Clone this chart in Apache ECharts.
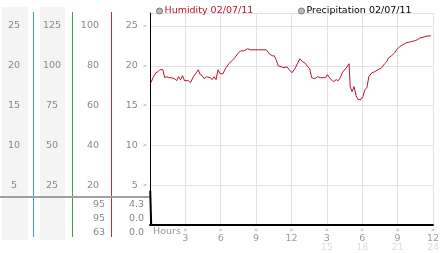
<!DOCTYPE html>
<html><head><meta charset="utf-8">
<script src="https://cdn.jsdelivr.net/npm/echarts@6/dist/echarts.min.js"></script>
<style>html,body{margin:0;padding:0;background:#fff}#c{width:442px;height:253px}</style>
</head><body><div id="c"></div>
<script>
const hours = [0.08,0.25,0.5,0.67,0.84,1.09,1.25,1.42,1.59,1.76,1.92,2.09,2.26,2.42,2.59,2.76,2.93,3.09,3.26,3.43,3.68,3.93,4.1,4.26,4.43,4.6,4.77,4.93,5.1,5.27,5.44,5.6,5.77,5.94,6.19,6.44,6.69,6.94,7.19,7.44,7.69,7.94,8.28,8.53,9.2,9.87,10.12,10.37,10.54,10.7,10.87,11.12,11.37,11.62,11.87,12.04,12.29,12.54,12.71,12.96,13.13,13.38,13.55,13.71,13.97,14.22,14.47,14.63,14.89,15.05,15.3,15.55,15.8,15.97,16.14,16.31,16.47,16.72,16.89,16.98,17.14,17.31,17.48,17.64,17.9,18.06,18.23,18.4,18.56,18.82,19.07,19.32,19.48,19.65,19.9,20.07,20.24,20.49,20.74,20.91,21.16,21.41,21.74,22.08,22.41,22.66,22.91,23.25,23.58,23.83];
const humidity = [71.5,74,76.5,77,78,78,74,74.5,74,74,73,73.5,72.5,74.5,73,75,72.5,73.5,72.5,71.5,74.5,76.5,78,75.5,75,73.5,74.5,73.5,74,73,74.5,73,78,76,76,79,81,82.5,84,86,87.5,87.5,88.5,88,88,88,86,85,85,83,80,79.5,79,79.5,77.5,76.5,78.5,81.5,83.5,82,81.5,79.5,78.5,74,73.5,74.5,74,75,74,75.5,73.5,72,73,72.5,74,76.5,77.5,79.5,81,69.5,67,69.5,65,63,63,64.5,68,69,74.5,76.5,77,78,77.5,79,81,82,84,85,86.5,88,89.5,90.5,91.5,92,92.5,93,94,94.5,95,95];
const precipHours = [0.02,0.1,24];
const precip = [4.3,0,0];
const xTicks = [3,6,9,12,15,18,21,24];
const legendNames = ['Humidity 02/07/11','Precipitation 02/07/11'];

const FONT = 'DejaVu Sans';
const YMAX = 26.625;
const hMax = Math.max(...humidity), hCur = humidity[humidity.length-1], hMin = Math.min(...humidity);
const pMax = Math.max(...precip), pCur = precip[precip.length-1], pMin = Math.min(...precip);
const humStats = [hMax,hCur,hMin].map(v=>String(Math.round(v)));
const preStats = [pMax,pCur,pMin].map(v=>v.toFixed(1));

function fmt(interval){return v => (v===0 || Math.abs(v % interval) > 1e-6) ? '' : String(v);}
function sideAxis(offset, max, interval, margin, align){
  return {type:'value',position:'left',offset:offset,min:0,max:max,interval:interval,
    axisLine:{show:false},axisTick:{show:false},splitLine:{show:false},
    axisLabel:{margin:margin,align:align,color:'#888',fontFamily:FONT,fontSize:9.5,formatter:fmt(interval),showMaxLabel:true}};
}
const statY = [205,219,233];
const graphic = [
  {type:'rect',shape:{x:2,y:7,width:26,height:233},style:{fill:'#f4f4f4'},z:-10},
  {type:'rect',shape:{x:40,y:7,width:25,height:233},style:{fill:'#f4f4f4'},z:-10},
  {type:'rect',shape:{x:33,y:12,width:1,height:225},style:{fill:'#3aa0c8'}},
  {type:'rect',shape:{x:72,y:12,width:1,height:225},style:{fill:'#3aa53a'}},
  {type:'rect',shape:{x:111,y:12,width:1,height:225},style:{fill:'#b83030'}},
  {type:'rect',shape:{x:0,y:196,width:150,height:2},style:{fill:'#a0a0a0'}},
  {type:'text',x:153,y:232,style:{text:'Hours',fill:'#999',font:'9.5px '+FONT,textVerticalAlign:'middle'}}
];
statY.forEach((y,i)=>{
  graphic.push({type:'text',x:105,y:y,style:{text:humStats[i],fill:'#888',font:'9.5px '+FONT,textAlign:'right',textVerticalAlign:'middle'}});
  graphic.push({type:'text',x:144,y:y,style:{text:preStats[i],fill:'#888',font:'9.5px '+FONT,textAlign:'right',textVerticalAlign:'middle'}});
});

const chart = echarts.init(document.getElementById('c'),null,{renderer:'canvas'});
chart.setOption({
  animation:false,
  textStyle:{fontFamily:FONT},
  legend:[
    {left:151,top:1,icon:'circle',itemWidth:6,itemHeight:6,
     data:[{name:legendNames[0],itemStyle:{color:'#bbb',borderColor:'#777',borderWidth:1},textStyle:{color:'#c0102a'}}],
     textStyle:{fontFamily:FONT,fontSize:9.5,padding:[0,0,0,-3]}},
    {left:293,top:1,icon:'circle',itemWidth:6,itemHeight:6,
     data:[{name:legendNames[1],itemStyle:{color:'#bbb',borderColor:'#777',borderWidth:1},textStyle:{color:'#000'}}],
     textStyle:{fontFamily:FONT,fontSize:9.5,padding:[0,0,0,-3]}}
  ],
  grid:{left:150,right:5,top:13,bottom:27},
  xAxis:{type:'value',min:0,max:24,interval:3,
    axisLine:{show:true,lineStyle:{color:'#000',width:2}},axisTick:{show:false},
    splitLine:{show:true,lineStyle:{color:'#e2e2e2',width:1}},
    axisLabel:{margin:2,showMinLabel:true,showMaxLabel:true,
      formatter:v=>{ if(v===0||xTicks.indexOf(v)<0) return ''; const t=v>12?v-12:v; return '{m|»}\n{v|'+t+'}'+(v>12?'\n{w|'+v+'}':''); },
      rich:{m:{fontSize:7,lineHeight:7,color:'#aaa',fontFamily:FONT},
            v:{fontSize:9.5,lineHeight:9,color:'#999',fontFamily:FONT},
            w:{fontSize:9.5,lineHeight:10,color:'#ddd',fontFamily:FONT}}}},
  yAxis:[
    {type:'value',position:'left',offset:0,min:0,max:YMAX,interval:5,
     axisLine:{show:true,lineStyle:{color:'#000',width:1}},axisTick:{show:false},
     splitLine:{show:true,lineStyle:{color:'#e2e2e2',width:1}},
     axisLabel:{margin:3,formatter:v=>{const s=fmt(5)(v); return s?'{v|'+s+'}{m|»}':'';},
       rich:{v:{fontSize:9.5,color:'#888',fontFamily:FONT,padding:[0,5,0,0]},m:{fontSize:7,color:'#aaa',fontFamily:FONT}}}},
    sideAxis(39, YMAX*4, 20, 12, 'right'),
    sideAxis(78, YMAX*5, 25, 20, 'center'),
    sideAxis(117, YMAX, 5, 19, 'center')
  ],
  series:[
    {name:legendNames[0],type:'line',yAxisIndex:1,showSymbol:false,symbol:'none',
     data:hours.map((h,i)=>[h,humidity[i]]),lineStyle:{color:'#c0102a',width:1},itemStyle:{color:'#c0102a'}},
    {name:legendNames[1],type:'line',yAxisIndex:0,showSymbol:false,symbol:'none',
     data:precipHours.map((h,i)=>[h,precip[i]]),lineStyle:{color:'#000',width:2},itemStyle:{color:'#000'}}
  ],
  graphic:graphic
});
</script></body></html>
